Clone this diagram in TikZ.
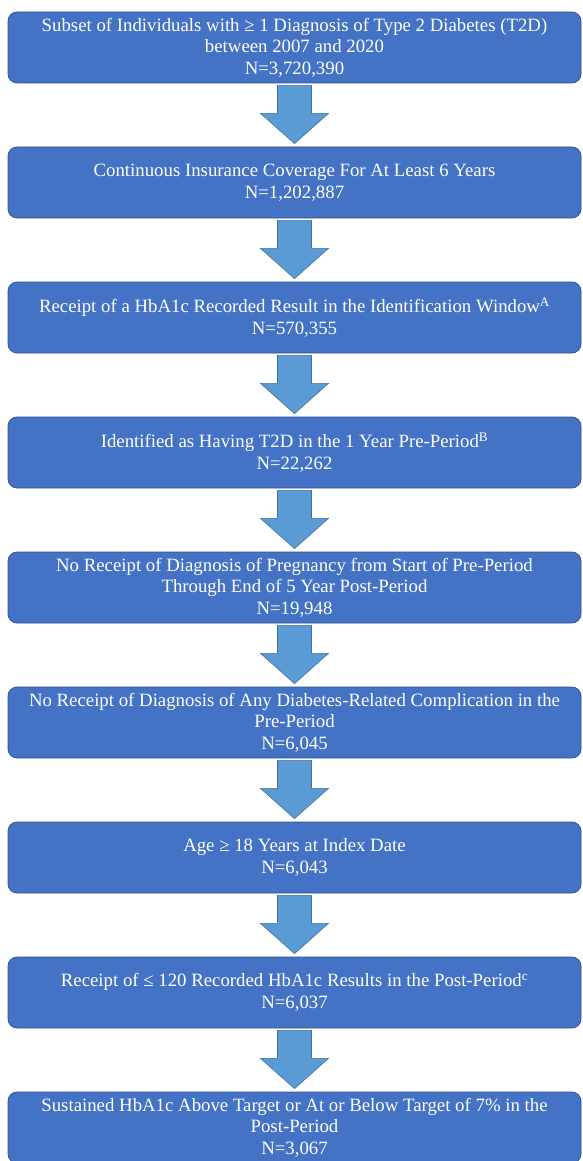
\documentclass[tikz,border=0pt]{standalone}
\usepackage{fontspec}
\setmainfont{Liberation Serif}
\usetikzlibrary{calc}
\definecolor{boxfill}{HTML}{4472C4}
\definecolor{boxline}{HTML}{2F528F}
\definecolor{arrfill}{HTML}{5B9BD5}
\definecolor{arrline}{HTML}{41719C}
\tikzset{
  stagebox/.style={draw=boxline, fill=boxfill, line width=0.75pt, rounded corners=9pt,
    minimum width=573pt, minimum height=71pt, inner sep=0pt, align=center,
    text=white, font=\fontsize{18.8}{21.5}\selectfont},
  blockarr/.style={draw=arrline, fill=arrfill, line width=0.6pt}
}
\newcommand\blockarrow[2]{%
  \draw[blockarr] ($(#1.south)+(-17pt,-2pt)$) -- ($(#1.south)+(17pt,-2pt)$)
    -- ($(#1.south)+(17pt,-30pt)$) -- ($(#1.south)+(34pt,-30pt)$)
    -- ($(#2.north)+(0pt,3pt)$) -- ($(#1.south)+(-34pt,-30pt)$)
    -- ($(#1.south)+(-17pt,-30pt)$) -- cycle;}
\begin{document}
\begin{tikzpicture}[x=1pt,y=1pt]
\useasboundingbox (0,0) rectangle (582,-1161);
\node[stagebox] (b1) at (294.5,-47.5) {Subset of Individuals with ≥ 1 Diagnosis of Type 2 Diabetes (T2D)\\between 2007 and 2020\\N=3,720,390};
\node[stagebox] (b2) at (294.5,-182.5) {Continuous Insurance Coverage For At Least 6 Years\\N=1,202,887};
\node[stagebox] (b3) at (294.5,-317.5) {Receipt of a HbA1c Recorded Result in the Identification Window\textsuperscript{A}\\N=570,355};
\node[stagebox] (b4) at (294.5,-452.5) {Identified as Having T2D in the 1 Year Pre-Period\textsuperscript{B}\\N=22,262};
\node[stagebox] (b5) at (294.5,-587.5) {No Receipt of Diagnosis of Pregnancy from Start of Pre-Period\\Through End of 5 Year Post-Period\\N=19,948};
\node[stagebox] (b6) at (294.5,-722.5) {No Receipt of Diagnosis of Any Diabetes-Related Complication in the\\Pre-Period\\N=6,045};
\node[stagebox] (b7) at (294.5,-857.5) {Age ≥ 18 Years at Index Date\\N=6,043};
\node[stagebox] (b8) at (294.5,-992.5) {Receipt of ≤ 120 Recorded HbA1c Results in the Post-Period\textsuperscript{c}\\N=6,037};
\node[stagebox] (b9) at (294.5,-1127.5) {Sustained HbA1c Above Target or At or Below Target of 7\% in the\\Post-Period\\N=3,067};
\blockarrow{b1}{b2}
\blockarrow{b2}{b3}
\blockarrow{b3}{b4}
\blockarrow{b4}{b5}
\blockarrow{b5}{b6}
\blockarrow{b6}{b7}
\blockarrow{b7}{b8}
\blockarrow{b8}{b9}
\end{tikzpicture}
\end{document}
